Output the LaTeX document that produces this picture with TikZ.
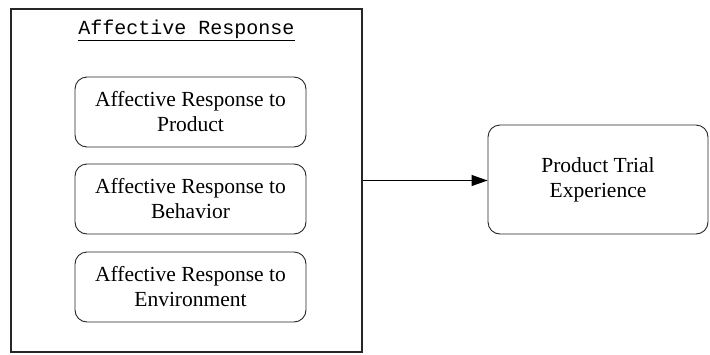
\documentclass[tikz,border=0pt]{standalone}
\usepackage{fontspec}
\setmainfont{Liberation Serif}
\setmonofont{Liberation Mono}
\usetikzlibrary{arrows.meta}
\begin{document}
\begin{tikzpicture}[x=1pt,y=-1pt,
  inner/.style={draw=black!85, line width=0.9pt, rounded corners=12pt, minimum width=231pt, minimum height=70pt, align=center, font=\fontsize{21.5}{25}\selectfont, inner sep=0pt},
  frame/.style={draw=black!85, line width=1.4pt, minimum width=351pt, minimum height=343pt, inner sep=0pt},
  conn/.style={line width=0.9pt, -{Triangle[length=16pt,width=11pt]}}]
\useasboundingbox (0,0) rectangle (710,354);
\node[frame] (outer) at (186.5,180.5) {};
\node[font=\ttfamily\fontsize{20}{24}\selectfont, inner sep=0pt] (title) at (186.5,30) {\underline{Affective Response}};
\node[inner] (p) at (190.5,112) {Affective Response to\\Product};
\node[inner] (b) at (190.5,199) {Affective Response to\\Behavior};
\node[inner] (e) at (190.5,287) {Affective Response to\\Environment};
\node[inner, minimum width=220pt, minimum height=109pt] (pt) at (598,179.5) {Product Trial\\Experience};
\draw[conn] (outer.east) -- (outer.east -| pt.west);
\end{tikzpicture}
\end{document}
